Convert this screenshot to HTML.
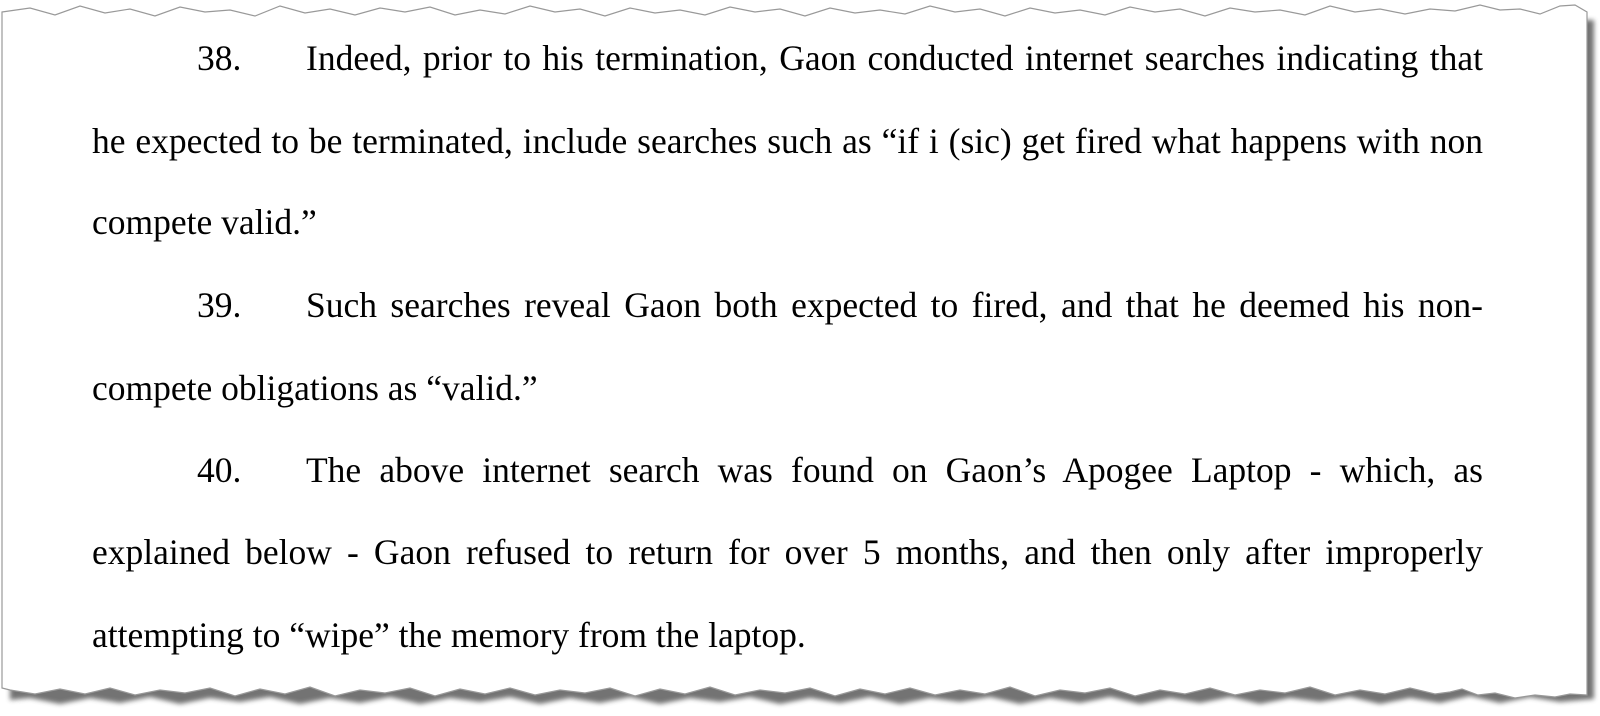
<!DOCTYPE html>
<html><head><meta charset="utf-8"><style>
html,body{margin:0;padding:0;background:#fff;}
body{width:1600px;height:716px;position:relative;overflow:hidden;font-family:"Liberation Serif","Times New Roman",serif;color:#000;}
svg{position:absolute;left:0;top:0;}
.l{position:absolute;left:92px;width:1391px;font-size:35.5px;line-height:44px;height:44px;white-space:nowrap;}
.j{text-align:justify;text-align-last:justify;white-space:normal;}
.n{position:absolute;left:197px;font-size:35.5px;line-height:44px;}
</style></head><body>
<svg width="1600" height="716">
<defs><filter id="s" x="-5%" y="-5%" width="110%" height="115%"><feGaussianBlur stdDeviation="2.5"/></filter></defs>
<polygon filter="url(#s)" fill="#444" opacity="0.75" points="10,20 1594,20 1594,699 1560,702 1530,697 1500,703 1470,696 1440,703 1410,698 1380,704 1350,697 1320,702 1290,698 1260,704 1230,697 1200,703 1170,698 1140,704 1110,697 1080,703 1050,698 1020,704 990,697 960,702 930,698 900,704 870,697 840,703 810,698 780,704 750,697 720,702 690,698 660,704 630,697 600,703 570,698 540,704 510,697 480,702 450,698 420,704 390,697 360,703 330,698 300,704 270,697 240,702 210,698 180,704 150,697 120,703 90,698 60,704 30,698 10,700"/>
<polygon fill="#fff" stroke="#999" stroke-width="1.2" points="2,12 30,8 55,15 80,6 105,13 130,9 155,16 180,7 205,12 230,10 255,16 280,6 305,13 330,9 355,15 380,8 405,12 430,7 455,15 480,10 505,14 530,6 555,12 580,9 605,16 630,8 655,13 680,10 705,15 730,7 755,12 780,9 805,16 830,8 855,13 880,10 905,14 930,6 955,12 980,9 1005,16 1030,8 1055,13 1080,10 1105,15 1130,7 1155,12 1180,9 1205,16 1230,8 1255,12 1280,10 1305,15 1330,6 1355,12 1380,9 1405,14 1430,9 1455,11 1480,5 1500,10 1520,9 1540,14 1560,6 1575,5 1587,12 1587,695 1570,694 1555,697 1535,695 1515,698 1495,693 1478,695 1462,689 1450,692 1435,694 1410,688 1385,694 1360,690 1335,695 1310,687 1285,693 1260,690 1235,695 1210,688 1185,694 1160,690 1135,696 1110,688 1085,693 1060,690 1035,696 1010,687 985,694 960,690 935,695 910,688 885,694 860,689 835,696 810,688 785,693 760,690 735,695 710,687 685,694 660,689 635,696 610,688 585,693 560,690 535,695 510,688 485,694 460,689 435,696 410,688 385,693 360,690 335,696 310,687 285,694 260,689 235,696 210,688 185,693 160,690 135,695 110,688 85,694 60,689 35,694 10,690 2,688"/>
</svg>
<div class="n" style="top:36px">38.</div>
<div class="l j" style="top:36px;left:306px;width:1177px">Indeed, prior to his termination, Gaon conducted internet searches indicating that</div>
<div class="l j" style="top:119px">he expected to be terminated, include searches such as “if i (sic) get fired what happens with non</div>
<div class="l" style="top:200px">compete valid.”</div>
<div class="n" style="top:283px">39.</div>
<div class="l j" style="top:283px;left:306px;width:1177px">Such searches reveal Gaon both expected to fired, and that he deemed his non-</div>
<div class="l" style="top:366px">compete obligations as “valid.”</div>
<div class="n" style="top:448px">40.</div>
<div class="l j" style="top:448px;left:306px;width:1177px">The above internet search was found on Gaon’s Apogee Laptop - which, as</div>
<div class="l j" style="top:530px">explained below - Gaon refused to return for over 5 months, and then only after improperly</div>
<div class="l" style="top:613px">attempting to “wipe” the memory from the laptop.</div>
</body></html>
